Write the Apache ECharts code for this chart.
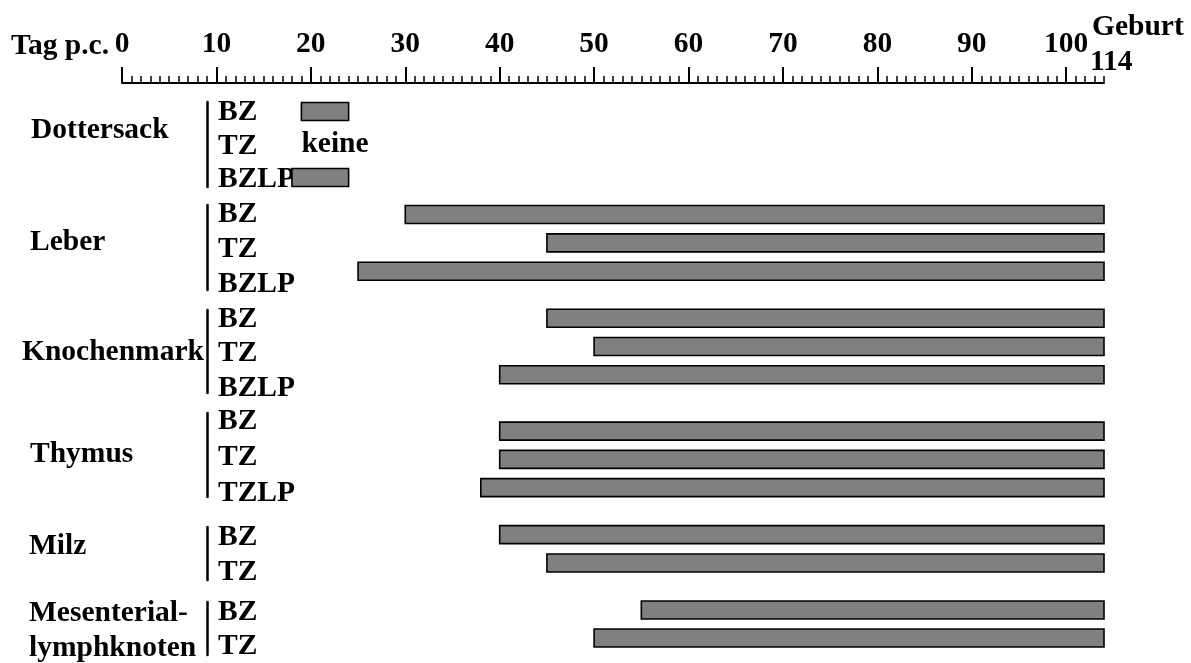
<!DOCTYPE html>
<html><head><meta charset="utf-8">
<script src="https://cdn.jsdelivr.net/npm/echarts@6/dist/echarts.min.js"></script>
<style>html,body{margin:0;padding:0;background:#fff}#chart{width:1191px;height:663px}</style>
</head><body><div id="chart"></div>
<script>
// ================= DATA =================
// Ruler: day post conception; the right end of the ruler (position 104) stands for birth (day 114)
const tickLabels = [0, 10, 20, 30, 40, 50, 60, 70, 80, 90, 100];
const rulerEnd = 104;
const birthLabel = '114';
const axisTitle = 'Tag p.c.';
const birthTitle = 'Geburt';

const organNames = ['Dottersack', 'Leber', 'Knochenmark', 'Thymus', 'Milz', 'Mesenterial-\nlymphknoten'];

const rowsDottersack = ['BZ', 'TZ', 'BZLP'];
const startDottersack = [19, null, 18];
const endDottersack = [24, null, 24];
const noteDottersack = [null, 'keine', null];
const noteAtDottersack = [null, 19, null];

const rowsLeber = ['BZ', 'TZ', 'BZLP'];
const startLeber = [30, 45, 25];
const endLeber = [104, 104, 104];

const rowsKnochenmark = ['BZ', 'TZ', 'BZLP'];
const startKnochenmark = [45, 50, 40];
const endKnochenmark = [104, 104, 104];

const rowsThymus = ['BZ', 'TZ', 'TZLP'];
const startThymus = [40, 40, 38];
const endThymus = [104, 104, 104];

const rowsMilz = ['BZ', 'TZ'];
const startMilz = [40, 45];
const endMilz = [104, 104];

const rowsMesenterial = ['BZ', 'TZ'];
const startMesenterial = [55, 50];
const endMesenterial = [104, 104];

// ================= BUILD =================
const groups = [
  { rows: rowsDottersack, start: startDottersack, end: endDottersack, note: noteDottersack, noteAt: noteAtDottersack },
  { rows: rowsLeber, start: startLeber, end: endLeber },
  { rows: rowsKnochenmark, start: startKnochenmark, end: endKnochenmark },
  { rows: rowsThymus, start: startThymus, end: endThymus },
  { rows: rowsMilz, start: startMilz, end: endMilz },
  { rows: rowsMesenterial, start: startMesenterial, end: endMesenterial }
];

// layout (pixels): bar band [top,height], label band [top,height], bracket [top,bottom], name position
const layout = [
  { bar: [95, 99],      lab: [95.75, 100.5], line: [102, 187], nx: 31, ny: 130 },
  { bar: [200.3, 85.2], lab: [196.5, 105],   line: [205, 290], nx: 30, ny: 242 },
  { bar: [304.1, 84.75],lab: [301.75, 103.5],line: [310, 393], nx: 22, ny: 352 },
  { bar: [417, 84.75],  lab: [403, 108],     line: [413, 497], nx: 30, ny: 454 },
  { bar: [520.5, 56.6], lab: [519.5, 70],    line: [527, 580], nx: 29, ny: 546 },
  { bar: [596, 56],     lab: [595.5, 70],    line: [602, 655], nx: 29, ny: 631 }
];

const FONT = '"Liberation Serif","Times New Roman",serif';
const FS = 29.5;
const txt = { fontFamily: FONT, fontWeight: 'bold', fontSize: FS, color: '#000' };
const PLOT_LEFT = 122, PLOT_WIDTH = 982;

const grid = [], xAxis = [], yAxis = [], series = [];

// ruler
grid.push({ left: PLOT_LEFT, width: PLOT_WIDTH, top: 82, height: 1 });
xAxis.push({
  gridIndex: 0, type: 'value', min: 0, max: rulerEnd, interval: 10, position: 'top',
  axisLine: { show: true, lineStyle: { color: '#000', width: 2 } },
  axisTick: { show: true, customValues: tickLabels, length: 16, lineStyle: { color: '#000', width: 2 } },
  axisLabel: Object.assign({ customValues: tickLabels, margin: 23 }, txt),
  splitLine: { show: false }
});
xAxis.push({
  gridIndex: 0, type: 'value', min: 0, max: rulerEnd, interval: 1, position: 'top',
  axisLine: { show: false },
  axisTick: { show: true, length: 6, lineStyle: { color: '#000', width: 1.5 } },
  axisLabel: { show: false }, splitLine: { show: false }
});
yAxis.push({ gridIndex: 0, type: 'value', show: false });

const graphic = [];

groups.forEach((g, gi) => {
  const L = layout[gi];
  // bar grid
  let idx = grid.length;
  grid.push({ left: PLOT_LEFT, width: PLOT_WIDTH, top: L.bar[0], height: L.bar[1] });
  const xi = xAxis.length, yi = yAxis.length;
  xAxis.push({ gridIndex: idx, type: 'value', min: 0, max: rulerEnd, show: false });
  yAxis.push({ gridIndex: idx, type: 'category', data: g.rows, inverse: true, show: false });
  const data = [];
  g.rows.forEach((r, i) => {
    if (g.start[i] != null) data.push([g.start[i], g.end[i], i]);
  });
  series.push({
    type: 'custom', xAxisIndex: xi, yAxisIndex: yi, encode: { x: [0, 1], y: 2 },
    data: data,
    renderItem: function (params, api) {
      const y = api.value(2);
      const s = api.coord([api.value(0), y]);
      const e = api.coord([api.value(1), y]);
      const h = 18;
      return {
        type: 'rect',
        shape: { x: s[0], y: s[1] - h / 2, width: e[0] - s[0], height: h },
        style: { fill: '#808080', stroke: '#000', lineWidth: 1.6 }
      };
    }
  });
  if (g.note) {
    const nd = [];
    g.note.forEach((n, i) => { if (n) nd.push([g.noteAt[i], i, n]); });
    series.push({
      type: 'custom', xAxisIndex: xi, yAxisIndex: yi, encode: { x: 0, y: 1 },
      data: nd,
      renderItem: function (params, api) {
        const p = api.coord([api.value(0), api.value(1)]);
        return {
          type: 'text', x: p[0], y: p[1],
          style: { text: nd[params.dataIndex][2], fill: '#000', font: 'bold ' + FS + 'px ' + FONT, align: 'left', verticalAlign: 'middle' }
        };
      }
    });
  }
  // label grid
  idx = grid.length;
  grid.push({ left: 200, width: 7, top: L.lab[0], height: L.lab[1] });
  xAxis.push({ gridIndex: idx, type: 'value', show: false });
  yAxis.push({
    gridIndex: idx, type: 'category', data: g.rows, inverse: true, position: 'right',
    axisLine: { show: false }, axisTick: { show: false },
    axisLabel: Object.assign({ margin: 11, interval: 0 }, txt), splitLine: { show: false }
  });
  // bracket line grid
  idx = grid.length;
  grid.push({ left: 207, width: 1, top: L.line[0], height: L.line[1] - L.line[0] });
  xAxis.push({ gridIndex: idx, type: 'value', show: false });
  yAxis.push({
    gridIndex: idx, type: 'value', position: 'left',
    axisLine: { show: true, onZero: false, lineStyle: { color: '#000', width: 2.5 } },
    axisTick: { show: false }, axisLabel: { show: false }, splitLine: { show: false }
  });
  // organ name
  graphic.push({
    type: 'text', x: L.nx, y: L.ny,
    style: { text: organNames[gi], fill: '#000', font: 'bold ' + FS + 'px ' + FONT, align: 'left', verticalAlign: 'middle', lineHeight: 35 }
  });
});

graphic.push({ type: 'text', x: 11, y: 46, style: { text: axisTitle, fill: '#000', font: 'bold ' + FS + 'px ' + FONT, align: 'left', verticalAlign: 'middle' } });
graphic.push({ type: 'text', x: 1092, y: 27, style: { text: birthTitle, fill: '#000', font: 'bold ' + FS + 'px ' + FONT, align: 'left', verticalAlign: 'middle' } });
graphic.push({ type: 'text', x: 1090, y: 62, style: { text: birthLabel, fill: '#000', font: 'bold ' + FS + 'px ' + FONT, align: 'left', verticalAlign: 'middle' } });

const chart = echarts.init(document.getElementById('chart'), null, { renderer: 'canvas' });
chart.setOption({
  animation: false,
  backgroundColor: '#fff',
  grid: grid, xAxis: xAxis, yAxis: yAxis, series: series, graphic: graphic
});
</script></body></html>
